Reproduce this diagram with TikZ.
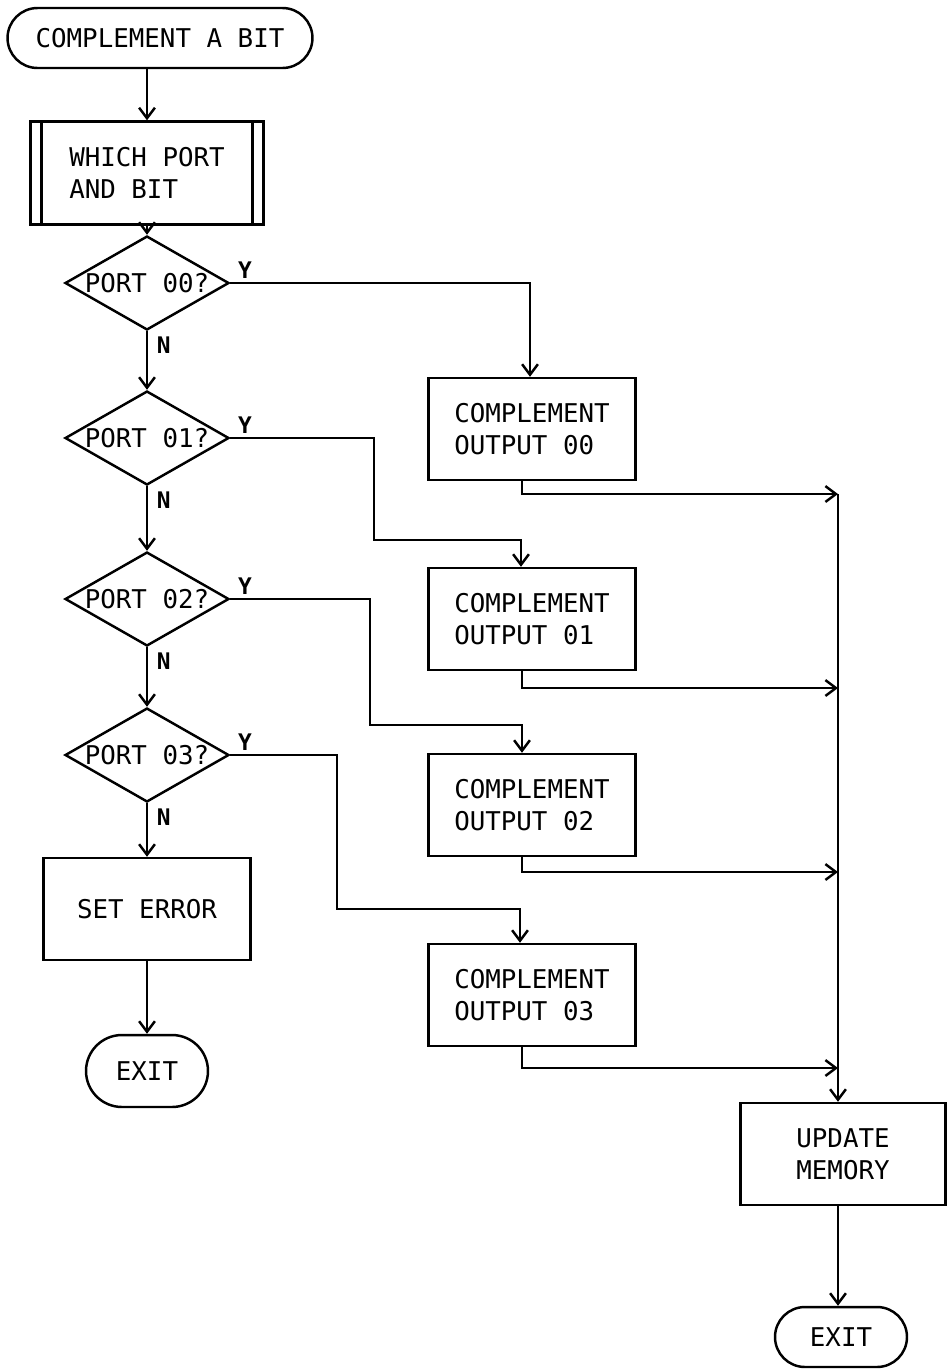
\documentclass[tikz,border=0pt]{standalone}
\usepackage{fontspec}
\setmonofont{DejaVu Sans Mono}
\usetikzlibrary{shapes.geometric,shapes.misc,arrows.meta}

\begin{document}
\begin{tikzpicture}[x=0.02cm,y=-0.02cm,line width=1.4pt,
    every node/.style={font=\ttfamily\fontsize{14.7}{18}\selectfont},
    term/.style={draw,rounded rectangle,inner sep=0pt},
    proc/.style={draw,rectangle,minimum width=4.14cm,minimum height=2.04cm,align=left},
    decision/.style={draw,diamond,aspect=1.75,inner sep=0pt,minimum width=3.28cm,minimum height=1.88cm},
    lbl/.style={inner sep=1pt,font=\ttfamily\bfseries\fontsize{13}{13}\selectfont},
    arr/.style={-{Straight Barb[length=6pt,width=9pt]}}]
  \useasboundingbox (0,0) rectangle (948,1370);

  % Left column
  \node[term,minimum width=6.1cm,minimum height=1.2cm] (start) at (160,38) {COMPLEMENT A BIT};
  \node[proc,minimum width=4.66cm,minimum height=2.06cm] (which) at (147,173) {WHICH PORT\\AND BIT};
  \draw ([xshift=0.24cm]which.north west) -- ([xshift=0.24cm]which.south west);
  \draw ([xshift=-0.24cm]which.north east) -- ([xshift=-0.24cm]which.south east);
  \foreach \i/\y in {0/283,1/438,2/599,3/755}{
    \node[decision] (d\i) at (147,\y) {PORT 0\i?};
    \node[lbl,anchor=south west] (y\i) at ([xshift=0.1cm,yshift=0.04cm]d\i.east) {Y};
    \node[lbl,anchor=north west] (n\i) at ([xshift=0.14cm,yshift=-0.06cm]d\i.south) {N};
  }
  \node[proc,align=center] (seterr) at (147,909) {SET ERROR};
  \node[term,minimum width=2.44cm,minimum height=1.44cm] (exit1) at (147,1071) {EXIT};

  % Right column
  \foreach \i/\y in {0/429,1/619,2/805,3/995}
    \node[proc] (b\i) at (532,\y) {COMPLEMENT\\OUTPUT 0\i};
  \node[proc,align=center,minimum width=4.1cm] (upd) at (843,1154) {UPDATE\\MEMORY};
  \node[term,minimum width=2.64cm,minimum height=1.2cm] (exit2) at (841,1337) {EXIT};

  % Bus junctions
  \coordinate (j0) at (838,494);
  \coordinate (j1) at (838,688);
  \coordinate (j2) at (838,872);
  \coordinate (j3) at (838,1068);

  % Flow
  \draw[arr] (start.south -| which.north) -- (which.north);
  \draw[arr] (which.south) -- (d0.north);
  \foreach \i/\j in {0/1,1/2,2/3}
    \draw[arr] (d\i.south) -- (d\j.north);
  \draw[arr] (d3.south) -- (seterr.north);
  \draw[arr] (seterr.south) -- (exit1.north);

  % Yes branches
  \draw[arr] (d0.east) -| ([xshift=-0.04cm]b0.north);
  \draw[arr] (d1.east) -| (374,540) -| ([xshift=-0.22cm]b1.north);
  \draw[arr] (d2.east) -| (370,725) -| ([xshift=-0.2cm]b2.north);
  \draw[arr] (d3.east) -| (337,909) -| ([xshift=-0.24cm]b3.north);

  % Collect into update
  \foreach \i in {0,...,3}
    \draw[arr] ([xshift=-0.2cm]b\i.south) |- (j\i);
  \draw[arr] (j0) -- (j0 |- upd.north);
  \draw[arr] (upd.south -| j0) -- (exit2.north -| j0);
\end{tikzpicture}
\end{document}
